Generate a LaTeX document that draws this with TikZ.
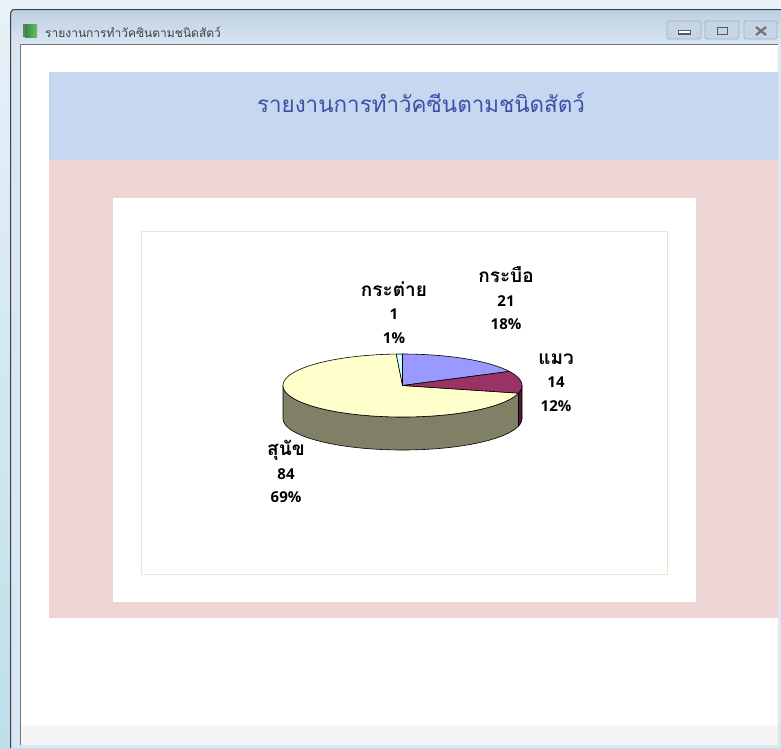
\documentclass[tikz,border=0pt]{standalone}
\usepackage{fontspec}
\newfontfamily\thaifont[Script=Thai]{Loma}
\newfontfamily\numfont{Open Sans}
\usetikzlibrary{shadings}
\definecolor{deskTop}{HTML}{E8F1F8}
\definecolor{deskBot}{HTML}{BDDFE9}
\definecolor{frameC}{HTML}{D9E6F4}
\definecolor{barTop}{HTML}{BFD0E2}
\definecolor{barBot}{HTML}{D8E5F3}
\definecolor{bandBlue}{HTML}{C6D8F0}
\definecolor{bandPink}{HTML}{EED5D5}
\definecolor{chartEdge}{HTML}{E4E8CC}
\definecolor{titleInk}{HTML}{3F4FA5}
\definecolor{sliceBlue}{HTML}{9999FF}
\definecolor{sliceMaroon}{HTML}{993366}
\definecolor{sliceYellow}{HTML}{FFFFCC}
\definecolor{sliceCyan}{HTML}{CCFFFF}
\definecolor{sideYellow}{HTML}{808066}
\definecolor{sideMaroon}{HTML}{4D1933}
\definecolor{btnFill}{HTML}{C6D5E6}
\definecolor{btnEdge}{HTML}{9FB2C8}
\definecolor{iconLight}{HTML}{6DBE6D}
\definecolor{iconDark}{HTML}{2E8B3E}
\tikzset{
  pielabel/.style={font=\numfont\bfseries\fontsize{15}{23.5}\selectfont,align=center,text=black,inner sep=0pt},
  topslice/.style={draw=black,line width=0.6pt,line join=round},
  winbtn/.style={draw=btnEdge,fill=btnFill,rounded corners=1.5pt,line width=0.8pt}
}
\newcommand{\thailabel}[1]{{\thaifont\bfseries\fontsize{19}{23.5}\selectfont #1}}
\begin{document}
\begin{tikzpicture}[x=1pt,y=-1pt]
\useasboundingbox (0,0) rectangle (781,748);
% desktop
\shade[top color=deskTop,bottom color=deskBot] (0,0) rectangle (781,748);
\fill[deskTop] (0,0) rectangle (781,9);
% window frame
\fill[frameC] (10,10) rectangle (781,748);
\shade[top color=barTop,bottom color=barBot] (11,10) rectangle (781,44);
\draw[black!75,line width=1pt] (10.5,748) -- (10.5,13) -- (13,9.5) -- (781,9.5);
% client area
\fill[white] (21,45) rectangle (778,745);
\fill[black!4!white] (21,725) rectangle (778,745);
\draw[black!55,line width=1.4pt] (20.5,745) -- (20.5,44.5) -- (778,44.5);
% title-bar content
\shade[left color=iconDark,right color=iconLight] (25,24) rectangle (37,37);
\fill[black!55] (23,24) rectangle (25,37);
\node[anchor=west,inner sep=0pt,text=black!75,font=\thaifont\fontsize{12}{14}\selectfont] (wintitle) at (45,32) {รายงานการทำวัคซินตามชนิดสัตว์};
\draw[winbtn] (667,21) rectangle (701,39);
\draw[winbtn] (705,21) rectangle (739,39);
\draw[winbtn] (744,21) rectangle (777,39);
\fill[black!65] (678,30) rectangle (691,34.5);
\fill[white] (679,31) rectangle (690,33);
\draw[black!65,line width=1pt] (717,27) rectangle (727,34);
\draw[black!55,line width=2.2pt] (756,27) -- (766,35) (766,27) -- (756,35);
% bands
\fill[bandBlue] (49,72) rectangle (778,160);
\fill[bandPink] (49,160) rectangle (778,617.5);
\node[text=titleInk,inner sep=0pt,font=\thaifont\fontsize{22.4}{28}\selectfont] (heading) at (421,102.5) {รายงานการทำวัคซีนตามชนิดสัตว์};
% chart panel
\fill[white] (113,198) rectangle (696,602);
\draw[chartEdge,line width=1pt] (141,231.5) rectangle (667,574);
% pie sides
\fill[sideYellow,draw=black,line width=0.6pt,line join=round] plot[domain=180:346,samples=90] ({402.5+119.5*cos(\x)},{418.5-31.5*sin(\x)}) -- plot[domain=346:180,samples=90] ({402.5+119.5*cos(\x)},{385.5-31.5*sin(\x)}) -- cycle;
\fill[sideMaroon,draw=black,line width=0.6pt,line join=round] plot[domain=346:360,samples=12] ({402.5+119.5*cos(\x)},{418.5-31.5*sin(\x)}) -- plot[domain=360:346,samples=12] ({402.5+119.5*cos(\x)},{385.5-31.5*sin(\x)}) -- cycle;
% pie top
\filldraw[topslice,fill=sliceYellow] (402.5,385.5) -- plot[domain=93:346,samples=120] ({402.5+119.5*cos(\x)},{385.5-31.5*sin(\x)}) -- cycle;
\filldraw[topslice,fill=sliceCyan] (402.5,385.5) -- plot[domain=90:93,samples=4] ({402.5+119.5*cos(\x)},{385.5-31.5*sin(\x)}) -- cycle;
\filldraw[topslice,fill=sliceBlue] (402.5,385.5) -- plot[domain=26.6:90,samples=40] ({402.5+119.5*cos(\x)},{385.5-31.5*sin(\x)}) -- cycle;
\filldraw[topslice,fill=sliceMaroon] (402.5,385.5) -- plot[domain=-14:26.6,samples=30] ({402.5+119.5*cos(\x)},{385.5-31.5*sin(\x)}) -- cycle;
% labels
\node[pielabel] (lblRabbit) at (394,312.5) {\thailabel{กระต่าย}\\1\\1\%};
\node[pielabel] (lblBuffalo) at (506,298.5) {\thailabel{กระบือ}\\21\\18\%};
\node[pielabel] (lblCat) at (556,382.5) {\thailabel{แมว}\\14\\12\%};
\node[pielabel] (lblDog) at (286,471.5) {\thailabel{สุนัข}\\84\\69\%};
\end{tikzpicture}
\end{document}
